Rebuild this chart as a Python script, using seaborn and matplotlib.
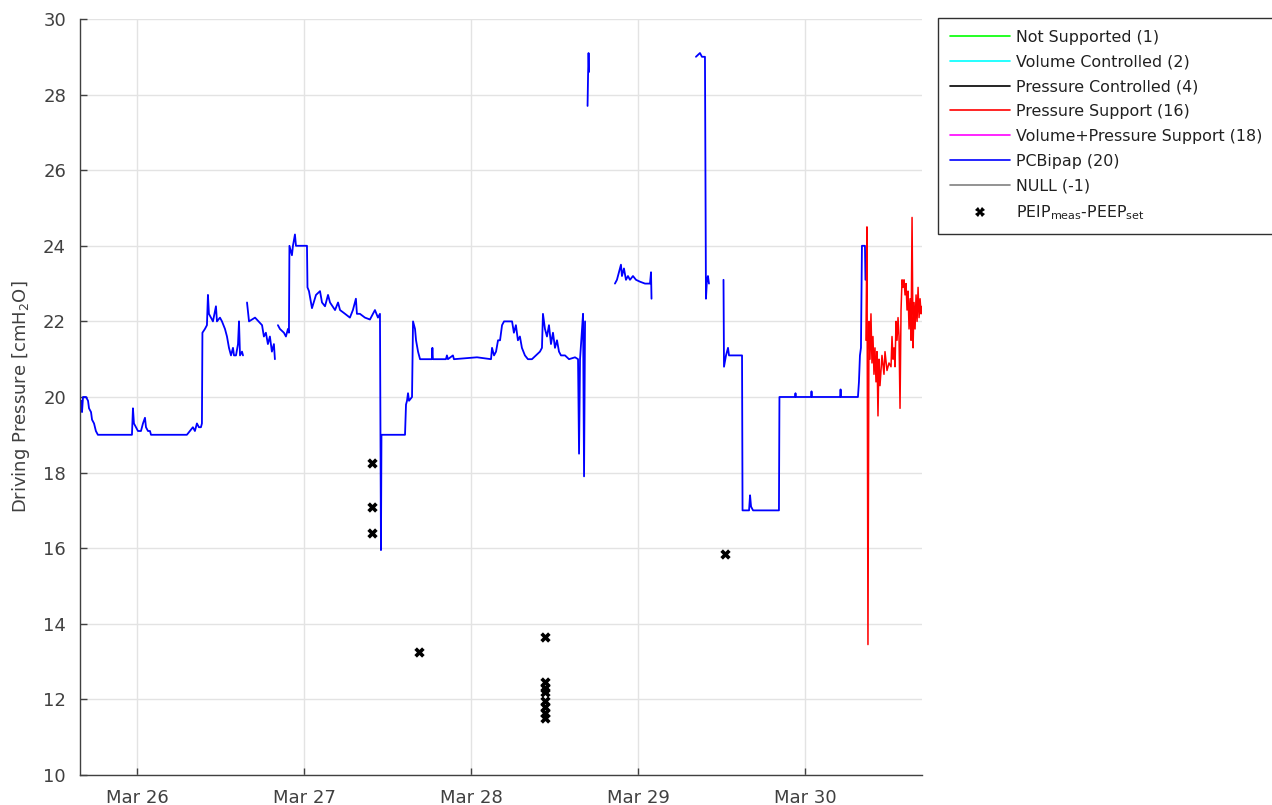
import numpy as np
import pandas as pd
import matplotlib
matplotlib.use("Agg")
import matplotlib.pyplot as plt
import matplotlib.dates as mdates
from matplotlib.lines import Line2D
import seaborn as sns

# Driving pressure trace, time given as day of March 2020 (fractional)
# NaN in the values marks a gap in the recording

blue_day = [25.659, 25.665, 25.671, 25.677, 25.695, 25.707, 25.713, 25.725, 25.731, 25.743,
            25.754, 25.766, 25.970, 25.976, 25.982, 25.994, 26.006, 26.024, 26.036, 26.048,
            26.054, 26.066, 26.078, 26.084, 26.299, 26.317, 26.335, 26.347, 26.359, 26.371,
            26.383, 26.389, 26.392, 26.407, 26.419, 26.425, 26.431, 26.443, 26.455, 26.473,
            26.479, 26.497, 26.509, 26.527, 26.539, 26.551, 26.563, 26.575, 26.581, 26.593,
            26.605, 26.611, 26.617, 26.629, 26.635, 26.645,
            26.659, 26.671, 26.707, 26.749, 26.760, 26.772, 26.784, 26.796, 26.808, 26.820,
            26.826, 26.835,
            26.844, 26.856, 26.880, 26.892, 26.904, 26.910, 26.913, 26.928, 26.934, 26.946,
            26.952, 27.018, 27.021, 27.030, 27.048, 27.072, 27.096, 27.108, 27.126, 27.144,
            27.156, 27.186, 27.204, 27.216, 27.246, 27.275, 27.293, 27.311, 27.317, 27.335,
            27.365, 27.395, 27.425, 27.443, 27.455, 27.461, 27.464, 27.605, 27.611, 27.617,
            27.623, 27.629, 27.647, 27.653, 27.665, 27.671, 27.683, 27.695, 27.766, 27.769,
            27.772, 27.850, 27.856, 27.862, 27.892, 27.898, 28.036, 28.120, 28.126, 28.138,
            28.150, 28.162, 28.174, 28.186, 28.198, 28.246, 28.257, 28.269, 28.281, 28.293,
            28.305, 28.323, 28.341, 28.365, 28.389, 28.413, 28.425, 28.431, 28.443, 28.455,
            28.467, 28.479, 28.491, 28.503, 28.515, 28.527, 28.539, 28.563, 28.587, 28.623,
            28.641, 28.647, 28.653, 28.665, 28.671, 28.677, 28.683, 28.690,
            28.698, 28.701, 28.704, 28.707, 28.750,
            28.862, 28.874, 28.886, 28.898, 28.904, 28.916, 28.928, 28.940, 28.952, 28.970,
            28.988, 29.012, 29.042, 29.072, 29.078, 29.081, 29.200,
            29.347, 29.371, 29.383, 29.401, 29.407, 29.413, 29.419, 29.425, 29.470,
            29.512, 29.515, 29.527, 29.539, 29.545, 29.623, 29.626, 29.665, 29.671, 29.677,
            29.689, 29.844, 29.847, 29.940, 29.943, 29.946, 30.036, 30.039, 30.042, 30.210,
            30.213, 30.216, 30.317, 30.323, 30.329, 30.335, 30.341, 30.359, 30.362]

blue_val = [19.7, 19.9, 19.6, 20.0, 20.0, 19.9, 19.7, 19.6, 19.4, 19.3,
            19.1, 19.0, 19.0, 19.7, 19.3, 19.2, 19.1, 19.1, 19.3, 19.45,
            19.2, 19.1, 19.1, 19.0, 19.0, 19.1, 19.2, 19.1, 19.3, 19.2,
            19.2, 19.3, 21.7, 21.8, 21.9, 22.7, 22.2, 22.1, 22.0, 22.4,
            22.0, 22.1, 22.0, 21.8, 21.6, 21.3, 21.1, 21.3, 21.1, 21.1,
            21.4, 22.0, 21.1, 21.2, 21.1, np.nan,
            22.5, 22.0, 22.1, 21.9, 21.6, 21.7, 21.4, 21.6, 21.2, 21.4,
            21.0, np.nan,
            21.9, 21.8, 21.7, 21.6, 21.8, 21.7, 24.0, 23.75, 24.0, 24.3,
            24.0, 24.0, 22.9, 22.8, 22.35, 22.7, 22.8, 22.5, 22.4, 22.7,
            22.5, 22.3, 22.5, 22.3, 22.2, 22.1, 22.3, 22.6, 22.2, 22.2,
            22.1, 22.05, 22.3, 22.1, 22.2, 15.95, 19.0, 19.0, 19.8, 19.9,
            20.1, 19.9, 20.0, 22.0, 21.8, 21.5, 21.2, 21.0, 21.0, 21.3,
            21.0, 21.0, 21.1, 21.0, 21.1, 21.0, 21.05, 21.0, 21.3, 21.1,
            21.2, 21.5, 21.5, 21.9, 22.0, 22.0, 21.7, 21.9, 21.5, 21.6,
            21.3, 21.1, 21.0, 21.0, 21.1, 21.2, 21.3, 22.2, 21.8, 21.6,
            21.9, 21.4, 21.7, 21.3, 21.5, 21.2, 21.1, 21.1, 21.0, 21.05,
            21.0, 18.5, 21.0, 21.8, 22.2, 17.9, 22.0, np.nan,
            27.7, 28.5, 29.1, 28.6, np.nan,
            23.0, 23.1, 23.3, 23.5, 23.2, 23.4, 23.1, 23.2, 23.1, 23.2,
            23.1, 23.05, 23.0, 23.0, 23.3, 22.6, np.nan,
            29.0, 29.1, 29.0, 29.0, 22.6, 23.1, 23.2, 23.0, np.nan,
            23.1, 20.8, 21.1, 21.3, 21.1, 21.1, 17.0, 17.0, 17.4, 17.1,
            17.0, 17.0, 20.0, 20.0, 20.1, 20.0, 20.0, 20.15, 20.0, 20.0,
            20.2, 20.0, 20.0, 20.4, 21.1, 21.3, 24.0, 24.0, 23.1]

red_day = [30.365, 30.371, 30.377, 30.383, 30.389, 30.395, 30.401, 30.407, 30.413, 30.419,
           30.425, 30.431, 30.437, 30.443, 30.449, 30.461, 30.473, 30.479, 30.491, 30.503,
           30.515, 30.521, 30.527, 30.533, 30.539, 30.545, 30.551, 30.557, 30.563, 30.569,
           30.575, 30.581, 30.587, 30.593, 30.599, 30.605, 30.611, 30.617, 30.623, 30.629,
           30.635, 30.641, 30.647, 30.653, 30.659, 30.665, 30.671, 30.677, 30.683, 30.689,
           30.695, 30.701]
red_val = [21.5, 24.5, 13.45, 22.0, 21.0, 22.2, 20.9, 21.6, 20.6, 21.3,
           20.4, 21.2, 19.5, 21.0, 20.3, 21.1, 20.6, 21.2, 20.7, 20.9,
           20.8, 21.6, 21.0, 21.3, 20.8, 22.0, 21.5, 22.1, 21.6, 19.7,
           22.3, 23.1, 22.9, 23.1, 22.7, 23.0, 22.3, 22.8, 21.8, 22.6,
           21.5, 24.75, 21.3, 22.5, 21.8, 22.7, 22.0, 22.9, 22.1, 22.6,
           22.2, 22.4]

# PEIP_meas - PEEP_set samples
peip_day = [27.407, 27.407, 27.407, 27.689, 28.443, 28.443, 28.443, 28.443,
            28.443, 28.443, 28.443, 28.443, 29.521]
peip_val = [18.25, 17.1, 16.4, 13.25, 13.65, 12.45, 12.3, 12.2,
            11.95, 11.8, 11.65, 11.5, 15.85]

modes = ['Not Supported (1)', 'Volume Controlled (2)', 'Pressure Controlled (4)',
         'Pressure Support (16)', 'Volume+Pressure Support (18)', 'PCBipap (20)', 'NULL (-1)']
mode_colors = ['#00ff00', '#00ffff', '#000000', '#ff0000', '#ff00ff', '#0000ff', '#808080']


def to_time(days):
    return pd.Timestamp('2020-03-01') + pd.to_timedelta(np.asarray(days) - 1, unit='D')


blue = pd.DataFrame({'time': to_time(blue_day), 'value': blue_val})
blue['seg'] = blue['value'].isna().cumsum()
blue = blue.dropna()
red = pd.DataFrame({'time': to_time(red_day), 'value': red_val})
peip = pd.DataFrame({'time': to_time(peip_day), 'value': peip_val})

sns.set_theme(style='white')
plt.rcParams['font.family'] = ['DejaVu Sans']
plt.rcParams['mathtext.default'] = 'regular'
axcol = '#404040'

fig = plt.figure(figsize=(12.72, 8.05), dpi=100)
ax = fig.add_axes([0.0629, 0.0373, 0.6620, 0.9391])

sns.lineplot(data=blue, x='time', y='value', units='seg', estimator=None,
             color='#0000ff', lw=1.3, ax=ax)
sns.lineplot(data=red, x='time', y='value', estimator=None,
             color='#ff0000', lw=1.1, ax=ax)
sns.scatterplot(data=peip, x='time', y='value', marker='X', s=55, color='black',
                linewidth=0, ax=ax, zorder=5)

ax.set_xlim(to_time([25.659])[0], to_time([30.701])[0])
ax.set_ylim(10, 30)
ax.set_yticks(np.arange(10, 31, 2))
ax.xaxis.set_major_locator(mdates.DayLocator())
ax.xaxis.set_major_formatter(mdates.DateFormatter('%b %d'))
ax.grid(True, color='#e3e3e3', lw=1.0)
ax.set_xlabel('')
ax.set_ylabel('Driving Pressure [cmH$_2$O]', fontsize=13, color=axcol, labelpad=8)
ax.tick_params(direction='in', length=5, width=1, colors=axcol, labelsize=13,
               left=True, bottom=True)
ax.tick_params(axis='y', pad=10)
ax.tick_params(axis='x', pad=10)
for side in ['top', 'right']:
    ax.spines[side].set_visible(False)
for side in ['left', 'bottom']:
    ax.spines[side].set_color(axcol)
    ax.spines[side].set_linewidth(1.0)

handles = [Line2D([], [], color=c, lw=1.2) for c in mode_colors]
handles.append(Line2D([], [], color='black', marker='X', ms=7, lw=0, markeredgewidth=0))
labels = modes + ['PEIP$_{meas}$-PEEP$_{set}$']
leg = fig.legend(handles, labels, loc='upper left', bbox_to_anchor=(0.7375, 0.978),
                 borderaxespad=0, fontsize=11.4, handlelength=3.8, handletextpad=0.4,
                 labelspacing=0.62, borderpad=0.75, frameon=True, fancybox=False,
                 framealpha=1)
leg.get_frame().set_edgecolor('#303030')
leg.get_frame().set_linewidth(1.0)
for t in leg.get_texts():
    t.set_color('#202020')

fig.savefig('out.png', dpi=100)
